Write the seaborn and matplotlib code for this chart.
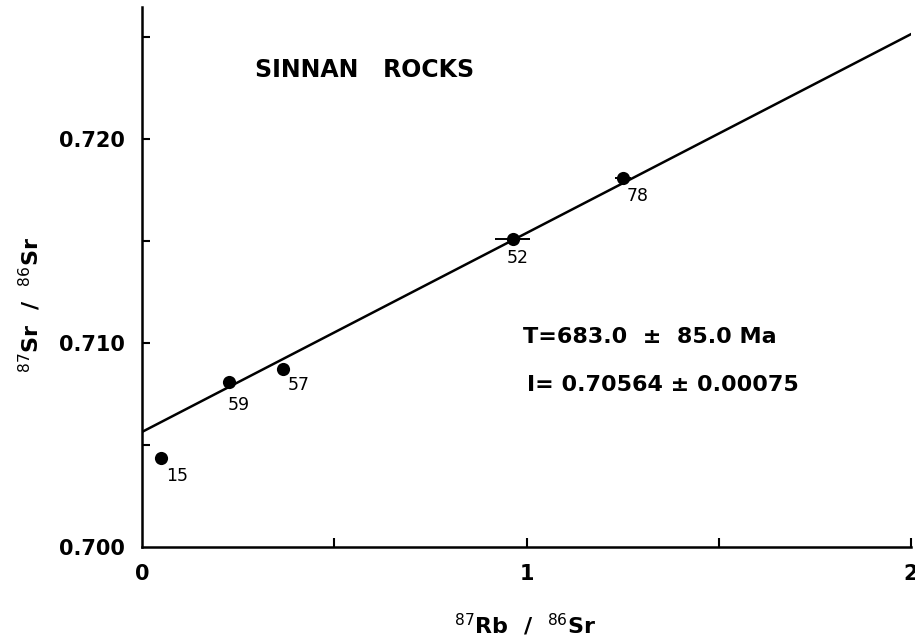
import matplotlib
matplotlib.use("Agg")
import matplotlib.pyplot as plt
import seaborn as sns
import numpy as np
import pandas as pd

# ---- data ----
sample_ids = ["15", "59", "57", "52", "78"]
rb_sr = [0.049, 0.225, 0.368, 0.964, 1.251]
sr_sr = [0.70434, 0.70808, 0.70872, 0.71512, 0.71808]
rb_err = [0.0, 0.0, 0.012, 0.045, 0.022]
intercept = 0.70564
slope = 0.00975
age_text = "T=683.0  \u00b1  85.0 Ma"
init_text = "I= 0.70564 \u00b1 0.00075"
title_text = "SINNAN   ROCKS"
x_ticks = [0, 0.5, 1, 1.5, 2]
x_ticklabels = ["0", "", "1", "", "2"]
y_ticks = [0.700, 0.705, 0.710, 0.715, 0.720, 0.725]
y_ticklabels = ["0.700", "", "0.710", "", "0.720", ""]

df = pd.DataFrame({"x": rb_sr, "y": sr_sr, "id": sample_ids, "xerr": rb_err})

sns.set_theme(style="ticks")
plt.rcParams['font.family'] = ['DejaVu Sans']
plt.rcParams['mathtext.fontset'] = 'dejavusans'
plt.rcParams['text.color'] = 'black'
plt.rcParams['xtick.labelcolor'] = 'black'
plt.rcParams['ytick.labelcolor'] = 'black'

fig = plt.figure(figsize=(9.15, 6.43), dpi=100)
ax = fig.add_axes([142/915, 96/643, (911-142)/915, (547-7)/643])

# isochron line
xl = np.array([0.0, 2.01])
sns.lineplot(x=xl, y=intercept + slope * xl, ax=ax, color="black", lw=1.8)

# error bars
ax.errorbar(df["x"], df["y"], xerr=df["xerr"], fmt="none", ecolor="black", elinewidth=1.4, capsize=0)
sns.scatterplot(data=df, x="x", y="y", ax=ax, color="black", s=90, linewidth=0, zorder=5, legend=False)

# point labels
offsets = {"15": (0.042, -0.00088), "59": (0.026, -0.00113), "57": (0.039, -0.00078),
           "52": (0.013, -0.00093), "78": (0.039, -0.00088)}
for _, r in df.iterrows():
    dx, dy = offsets[r["id"]]
    ax.text(r["x"] + dx, r["y"] + dy, r["id"], fontsize=12.5, ha="center", va="center", color="black")

ax.text(0.294, 0.72336, title_text, fontsize=17, ha="left", va="center", fontweight="bold", color="black")
ax.text(0.991, 0.71029, age_text, fontsize=16, ha="left", va="center", fontweight="bold", color="black")
ax.text(1.001, 0.70794, init_text, fontsize=16, ha="left", va="center", fontweight="bold", color="black")

ax.set_xlim(0, 2.0)
ax.set_ylim(0.700, 0.72647)
ax.set_xticks(x_ticks)
ax.set_yticks(y_ticks)
ax.set_xticklabels(x_ticklabels, fontsize=15, fontweight="bold")
ax.set_yticklabels(y_ticklabels, fontsize=15, fontweight="bold")
ax.tick_params(axis="both", which="major", direction="in", length=0, pad=12)
ax.minorticks_off()

# inward tick marks drawn at the tick positions (axis-fraction length)
ax.vlines(x_ticks[1:], 0, 0.016, transform=ax.get_xaxis_transform(), colors="black", lw=1.5, clip_on=False)
ax.hlines(y_ticks[1:], 0, 0.010, transform=ax.get_yaxis_transform(), colors="black", lw=1.5, clip_on=False)

for s in ["top", "right"]:
    ax.spines[s].set_visible(False)
for s in ["left", "bottom"]:
    ax.spines[s].set_color("black")
    ax.spines[s].set_linewidth(1.8)
ax.set_xlabel("")
ax.set_ylabel("")

fig.text(525/915, 1 - 625/643, r"$^{87}$Rb  /  $^{86}$Sr", fontsize=16, ha="center", va="center", fontweight="bold")
fig.text(30/915, 1 - 305/643, r"$^{87}$Sr  /  $^{86}$Sr", fontsize=16, ha="center", va="center", rotation=90, fontweight="bold")

fig.savefig("out.png", dpi=100)
